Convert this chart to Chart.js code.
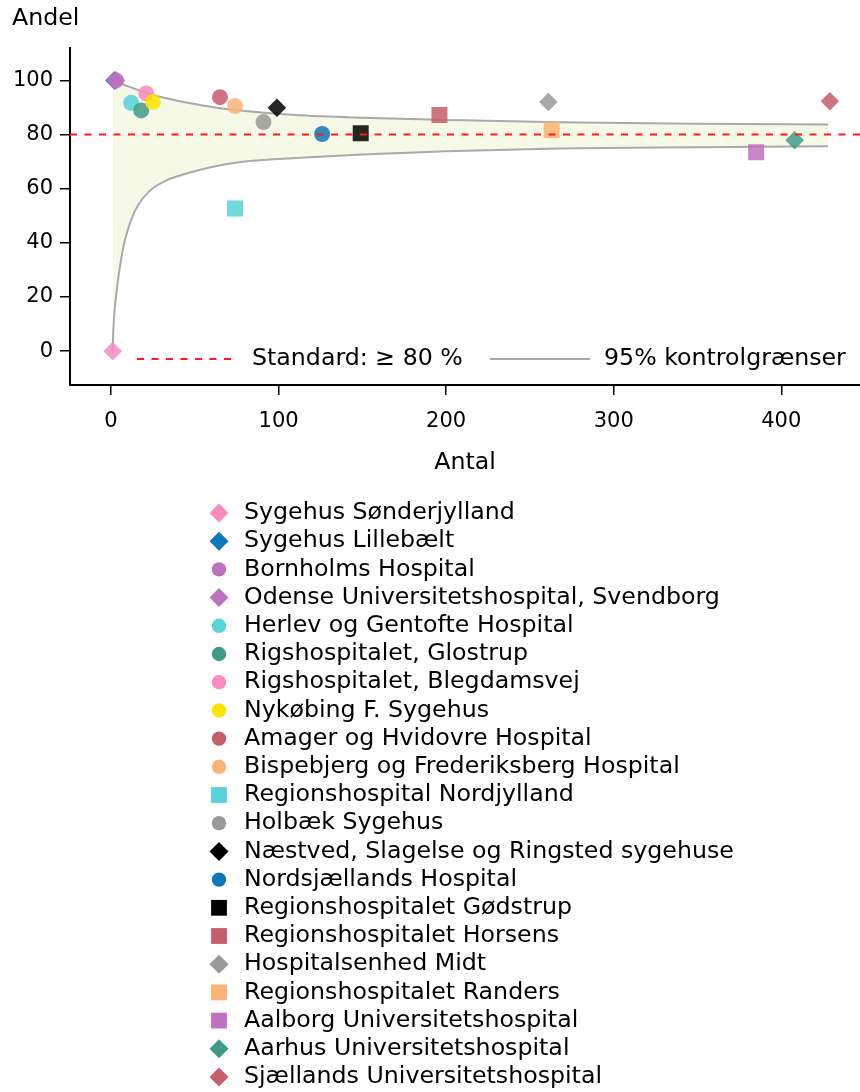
<!DOCTYPE html>
<html>
<head>
<meta charset="utf-8">
<script src="https://cdn.jsdelivr.net/npm/chart.js@4/dist/chart.umd.min.js"></script>
<style>
  html, body { margin: 0; padding: 0; background: #fff; }
</style>
</head>
<body>
<canvas id="myChart" width="860" height="1092"></canvas>
<script>
// sygehuse, antal og andel
const sygehuse = [
  "Sygehus Sønderjylland",
  "Sygehus Lillebælt",
  "Bornholms Hospital",
  "Odense Universitetshospital, Svendborg",
  "Herlev og Gentofte Hospital",
  "Rigshospitalet, Glostrup",
  "Rigshospitalet, Blegdamsvej",
  "Nykøbing F. Sygehus",
  "Amager og Hvidovre Hospital",
  "Bispebjerg og Frederiksberg Hospital",
  "Regionshospital Nordjylland",
  "Holbæk Sygehus",
  "Næstved, Slagelse og Ringsted sygehuse",
  "Nordsjællands Hospital",
  "Regionshospitalet Gødstrup",
  "Regionshospitalet Horsens",
  "Hospitalsenhed Midt",
  "Regionshospitalet Randers",
  "Aalborg Universitetshospital",
  "Aarhus Universitetshospital",
  "Sjællands Universitetshospital"
];
const antal = [1, 2, 3, 3, 12, 18, 21, 25, 65, 74, 74, 91, 99, 126, 149, 196, 261, 263, 385, 408, 429];
const andel = [0, 100, 100, 100, 91.7, 88.9, 95.2, 92.0, 93.8, 90.5, 52.7, 84.6, 89.9, 80.2, 80.5, 87.2, 92.0, 81.7, 73.5, 77.9, 92.3];
const farver = [
  "#f78bbe", "#0c77b9", "#c070c0", "#c070c0", "#56d4d8", "#3f9b88", "#f78bbe",
  "#fde400", "#c55d6b", "#f9b278", "#56d4d8", "#999999", "#000000", "#0c77b9",
  "#000000", "#c55d6b", "#999999", "#fab374", "#c070c0", "#3f9b88", "#c55d6b"
];
const former = [
  "rectRot", "rectRot", "circle", "rectRot", "circle", "circle", "circle",
  "circle", "circle", "circle", "rect", "circle", "rectRot", "circle",
  "rect", "rect", "rectRot", "rect", "rect", "rectRot", "rectRot"
];

// kontrolgrænser aflæst langs kurverne
const kontrolAntal = [1, 1.3, 2, 3.4, 5, 8, 12, 16, 23, 33, 45, 63, 83, 110, 150, 200, 267, 350, 428];
const oevreGraense = [100, 100, 100, 99.6, 99.2, 98.3, 97.4, 96.5, 95.0, 93.4, 91.8, 89.9, 88.5, 87.2, 86.2, 85.4, 84.5, 84.0, 83.7];
const nedreGraense = [0, 7, 14, 22.5, 30, 40.3, 48.5, 53.8, 59.2, 63.1, 65.6, 68.4, 70.2, 71.3, 72.6, 73.8, 74.8, 75.3, 75.7];

const standard = 80;
const xGraenser = [-24.5, 447];
const yGraenser = [-12.5, 111.8];
const xTicks = [0, 100, 200, 300, 400];
const yTicks = [0, 20, 40, 60, 80, 100];

const skrift = "DejaVu Sans";
Chart.defaults.font.family = skrift;
Chart.defaults.color = "#000";

function medAlpha(hex, a) {
  const r = parseInt(hex.slice(1, 3), 16);
  const g = parseInt(hex.slice(3, 5), 16);
  const b = parseInt(hex.slice(5, 7), 16);
  return `rgba(${r}, ${g}, ${b}, ${a})`;
}

const punktRadius = { circle: 8, rect: 11.3, rectRot: 9.3 };

const sygehusDatasets = sygehuse.map((navn, i) => ({
  type: "scatter",
  label: navn,
  data: [{ x: antal[i], y: andel[i] }],
  pointStyle: former[i],
  pointRadius: punktRadius[former[i]],
  pointHoverRadius: punktRadius[former[i]],
  backgroundColor: medAlpha(farver[i], 0.85),
  borderWidth: 0,
  pointBorderWidth: 0,
  order: -i
}));

const datasets = [
  {
    type: "line",
    label: "95% kontrolgrænser",
    data: kontrolAntal.map((n, i) => ({ x: n, y: oevreGraense[i] })),
    borderColor: "#aaaaaa",
    borderWidth: 2,
    pointRadius: 0,
    cubicInterpolationMode: "monotone",
    fill: "+1",
    backgroundColor: "#f6f9e5",
    order: 100
  },
  {
    type: "line",
    label: "nedre",
    data: kontrolAntal.map((n, i) => ({ x: n, y: nedreGraense[i] })),
    borderColor: "#aaaaaa",
    borderWidth: 2,
    pointRadius: 0,
    cubicInterpolationMode: "monotone",
    fill: false,
    order: 99
  },
  ...sygehusDatasets,
  {
    type: "line",
    label: "Standard: ≥ 80 %",
    data: [{ x: xGraenser[0], y: standard }, { x: xGraenser[1], y: standard }],
    borderColor: "#ff1a1a",
    borderWidth: 2,
    borderDash: [7, 7.5],
    pointRadius: 0,
    fill: false,
    order: -100
  }
];

function tegnForm(ctx, form, x, y, r) {
  ctx.beginPath();
  if (form === "circle") {
    ctx.arc(x, y, r, 0, Math.PI * 2);
  } else if (form === "rect") {
    ctx.rect(x - r, y - r, 2 * r, 2 * r);
  } else {
    ctx.moveTo(x, y - r);
    ctx.lineTo(x + r, y);
    ctx.lineTo(x, y + r);
    ctx.lineTo(x - r, y);
    ctx.closePath();
  }
  ctx.fill();
}

const legendeRadius = { circle: 7.2, rect: 7.9, rectRot: 9.5 };

const forklaring = {
  id: "forklaring",
  afterDraw(chart) {
    const ctx = chart.ctx;
    ctx.save();
    ctx.font = `23.7px "${skrift}"`;
    ctx.textBaseline = "middle";

    // forklaring inde i plottet
    const ly = 359;
    ctx.lineWidth = 2;
    ctx.strokeStyle = "#ff1a1a";
    ctx.setLineDash([7, 7.5]);
    ctx.beginPath(); ctx.moveTo(137, ly); ctx.lineTo(237, ly); ctx.stroke();
    ctx.setLineDash([]);
    ctx.fillStyle = "#000";
    ctx.fillText(datasets[datasets.length - 1].label, 252, ly);
    ctx.strokeStyle = "#aaaaaa";
    ctx.beginPath(); ctx.moveTo(490, ly); ctx.lineTo(590, ly); ctx.stroke();
    ctx.fillText(datasets[0].label, 604, ly);

    // sygehusliste under figuren
    sygehuse.forEach((navn, i) => {
      const y = 513 + i * 28.2;
      ctx.fillStyle = farver[i];
      tegnForm(ctx, former[i], 219, y, legendeRadius[former[i]]);
      ctx.fillStyle = "#000";
      ctx.fillText(navn, 244, y);
    });
    ctx.restore();
  }
};

const chartDOM = document.getElementById("myChart");
new Chart(chartDOM, {
  type: "scatter",
  data: { datasets },
  options: {
    responsive: false,
    animation: false,
    devicePixelRatio: 1,
    layout: { autoPadding: false, padding: { left: 12, right: 0, top: 0, bottom: 607 } },
    plugins: {
      legend: { display: false },
      tooltip: { enabled: false },
      title: {
        display: true,
        text: "Andel",
        align: "start",
        color: "#000",
        font: { size: 23.7, weight: "normal" },
        padding: { top: 5, bottom: 15 }
      }
    },
    scales: {
      x: {
        type: "linear",
        min: xGraenser[0],
        max: xGraenser[1],
        afterBuildTicks: (s) => { s.ticks = xTicks.map(v => ({ value: v })); },
        afterFit: (s) => { s.height = 100; s.paddingLeft = 0; s.paddingRight = 0; },
        grid: { drawOnChartArea: false, drawTicks: true, tickLength: 10, color: "#000", lineWidth: 1.5 },
        border: { display: true, color: "#000", width: 2 },
        ticks: { padding: 14, font: { size: 21 }, color: "#000", maxRotation: 0 },
        title: { display: true, text: "Antal", color: "#000", font: { size: 23.7 }, padding: { top: 0, bottom: 8 } }
      },
      y: {
        type: "linear",
        min: yGraenser[0],
        max: yGraenser[1],
        afterBuildTicks: (s) => { s.ticks = yTicks.map(v => ({ value: v })); },
        afterFit: (s) => { s.width = 58; s.paddingTop = 0; s.paddingBottom = 0; },
        grid: { drawOnChartArea: false, drawTicks: true, tickLength: 10, color: "#000", lineWidth: 1.5 },
        border: { display: true, color: "#000", width: 2 },
        ticks: { padding: 7, font: { size: 21 }, color: "#000" }
      }
    }
  },
  plugins: [forklaring]
});
</script>
</body>
</html>
